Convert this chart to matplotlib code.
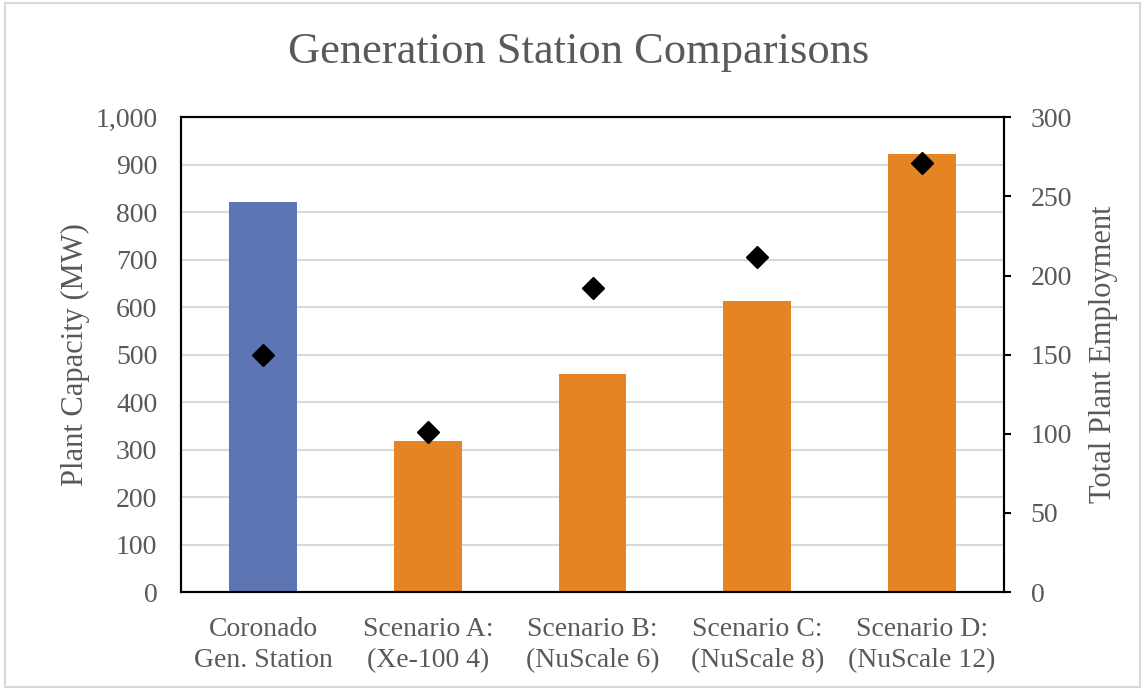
import matplotlib
matplotlib.use('Agg')
import matplotlib.pyplot as plt
from matplotlib.ticker import FuncFormatter
from matplotlib.patches import Rectangle

categories = ['Coronado\nGen. Station', 'Scenario A:\n(Xe-100 4)', 'Scenario B:\n(NuScale 6)',
              'Scenario C:\n(NuScale 8)', 'Scenario D:\n(NuScale 12)']
capacity_mw = [821, 318, 459, 613, 922]
employment = [150, 101, 192, 212, 271]
bar_colors = ['#5e75b4', '#e58422', '#e58422', '#e58422', '#e58422']

plt.rcParams['font.family'] = ['Liberation Serif', 'DejaVu Serif']
text_color = '#595959'

fig = plt.figure(figsize=(11.45, 6.9), dpi=100)
fig.patches.append(Rectangle((0.004, 0.004), 0.992, 0.992, transform=fig.transFigure,
                             fill=False, edgecolor='#d9d9d9', linewidth=1.5))
ax = fig.add_axes([0.158, 0.142, 0.719, 0.688])

x = list(range(len(categories)))
ax.bar(x, capacity_mw, width=0.41, color=bar_colors, zorder=2)
ax.set_xlim(-0.5, len(categories) - 0.5)
ax.set_ylim(0, 1000)
ax.set_yticks(range(0, 1001, 100))
ax.yaxis.set_major_formatter(FuncFormatter(lambda v, p: f'{int(v):,}'))
ax.grid(axis='y', color='#d9d9d9', linewidth=1.5, zorder=0)
ax.set_axisbelow(True)
ax.set_xticks(x)
ax.set_xticklabels(categories, fontsize=20, color=text_color, linespacing=1.3)
ax.tick_params(axis='x', length=0, pad=18)
ax.tick_params(axis='y', length=0, labelsize=20, labelcolor=text_color, pad=17)
ax.set_ylabel('Plant Capacity (MW)', fontsize=22, color=text_color, labelpad=4)
for s in ax.spines.values():
    s.set_color('black')
    s.set_linewidth(1.5)

ax2 = ax.twinx()
ax2.plot(x, employment, linestyle='none', marker='D', markersize=11, color='black', zorder=3)
ax2.set_ylim(0, 300)
ax2.set_yticks(range(0, 301, 50))
ax2.tick_params(axis='y', direction='out', length=5, width=1.5, labelsize=20,
                labelcolor=text_color, pad=14)
ax2.set_ylabel('Total Plant Employment', fontsize=22, color=text_color, labelpad=12)
for s in ax2.spines.values():
    s.set_color('black')
    s.set_linewidth(1.5)

fig.text(0.505, 0.925, 'Generation Station Comparisons', ha='center', va='center',
         fontsize=32, color=text_color)

fig.savefig('out.png', dpi=100)
